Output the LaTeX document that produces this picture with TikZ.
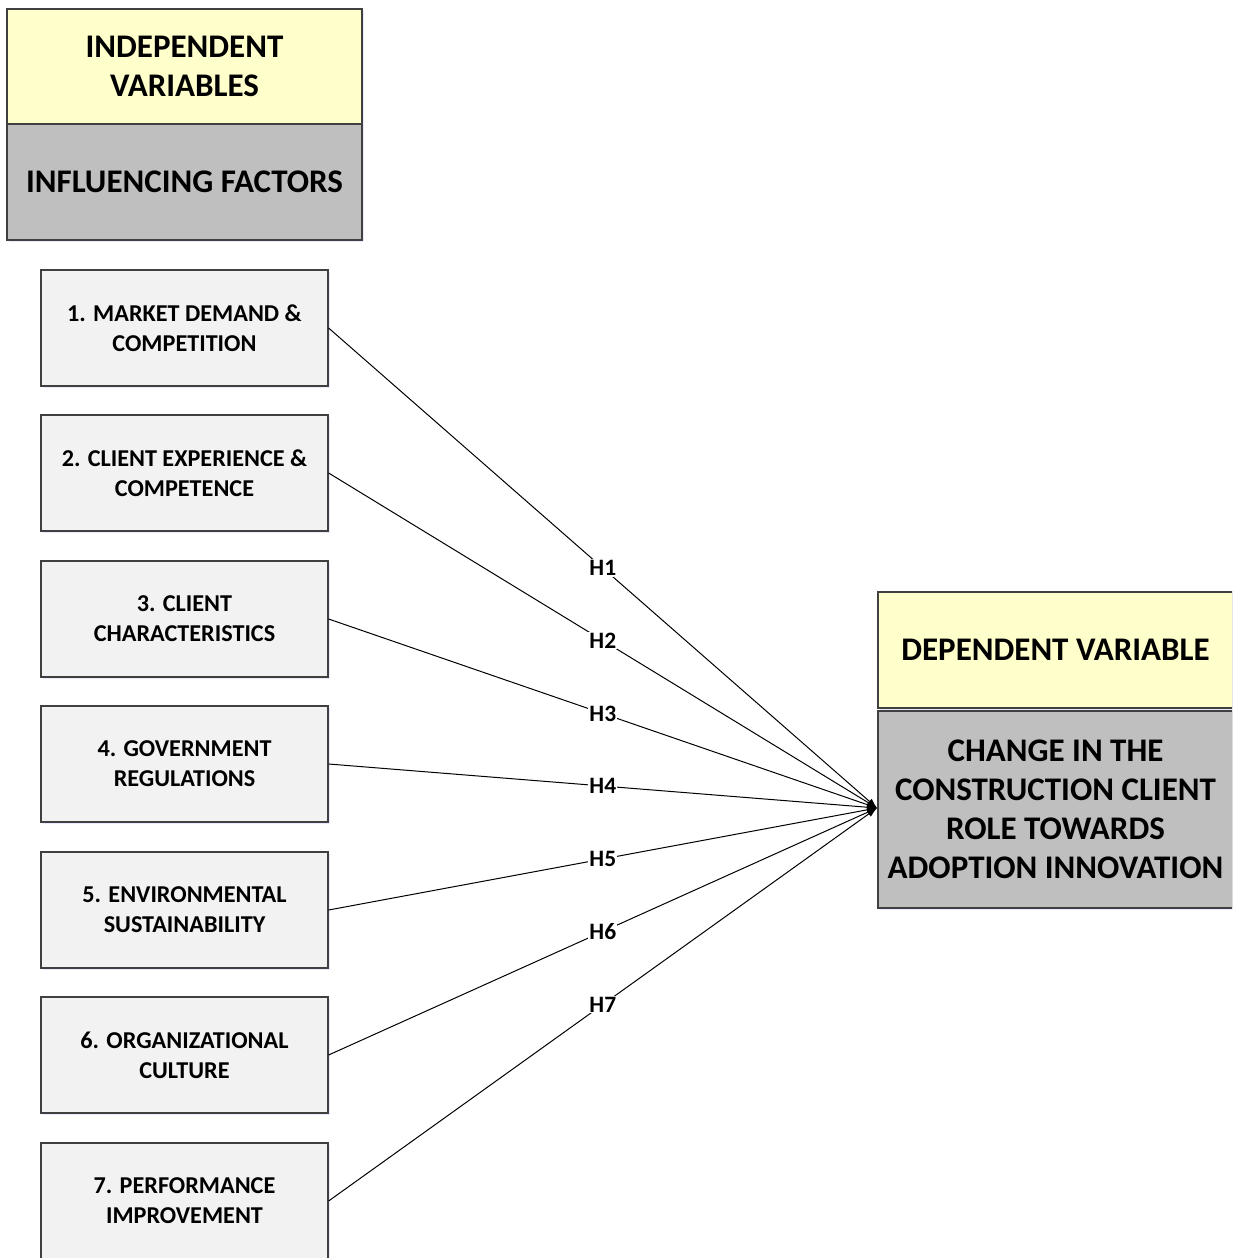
\documentclass[tikz,border=0pt]{standalone}
\usepackage{fontspec}
\setmainfont{Carlito}
\usepackage{xcolor}
\usetikzlibrary{arrows, arrows.meta}
\usetikzlibrary{shadows}

\definecolor{paleyellow}{HTML}{FFFFCC}
\definecolor{midgray}{HTML}{BFBFBF}
\definecolor{lightgray}{HTML}{F2F2F2}
\definecolor{edgegray}{HTML}{404040}

\begin{document}
\begin{tikzpicture}[x=1pt, y=-1pt,
    factor/.style={rectangle, draw=edgegray, line width=1.2pt, fill=lightgray,
      minimum width=287pt, minimum height=116pt, align=center,
      font=\fontsize{24.2}{30}\selectfont\bfseries,
      drop shadow={shadow xshift=1.5pt, shadow yshift=-1.5pt, fill=blue!25, opacity=0.35}},
    header/.style={rectangle, draw=edgegray, line width=1.2pt, minimum width=355pt,
      align=center, font=\fontsize{33}{39}\selectfont\bfseries,
      drop shadow={shadow xshift=1.5pt, shadow yshift=-1.5pt, fill=blue!25, opacity=0.35}},
    link/.style={line width=1pt, -{Latex[length=10pt, width=7pt]}},
    hyp/.style={midway, fill=white, inner sep=1pt, font=\fontsize{23.5}{26}\selectfont\bfseries}]
    \useasboundingbox (0,0) rectangle (1232,1258);
    \clip (0,0) rectangle (1232,1258);

    \node[header, fill=paleyellow, minimum height=115pt] (ivtop) at (184.5,66.5) {INDEPENDENT\\VARIABLES};
    \node[header, fill=midgray, minimum height=116pt] (ivbot) at (184.5,182) {INFLUENCING FACTORS};

    \node[factor] (1) at (184.5,328) {1. MARKET DEMAND \&\\COMPETITION};
    \node[factor] (2) at (184.5,473) {2. CLIENT EXPERIENCE \&\\COMPETENCE};
    \node[factor] (3) at (184.5,619) {3. CLIENT\\CHARACTERISTICS};
    \node[factor] (4) at (184.5,764) {4. GOVERNMENT\\REGULATIONS};
    \node[factor] (5) at (184.5,910) {5. ENVIRONMENTAL\\SUSTAINABILITY};
    \node[factor] (6) at (184.5,1055) {6. ORGANIZATIONAL\\CULTURE};
    \node[factor] (7) at (184.5,1201) {7. PERFORMANCE\\IMPROVEMENT};

    \node[header, fill=paleyellow, minimum height=116pt] (dvtop) at (1055.5,650) {DEPENDENT VARIABLE};
    \node[header, fill=midgray, minimum height=197pt] (dv) at (1055.5,809.5) {CHANGE IN THE\\CONSTRUCTION CLIENT\\ROLE TOWARDS\\ADOPTION INNOVATION};

    \coordinate (tip) at (877,808);

    \draw[link] (1.east) -- node[hyp] {H1} (tip);
    \draw[link] (2.east) -- node[hyp] {H2} (tip);
    \draw[link] (3.east) -- node[hyp] {H3} (tip);
    \draw[link] (4.east) -- node[hyp] {H4} (tip);
    \draw[link] (5.east) -- node[hyp] {H5} (tip);
    \draw[link] (6.east) -- node[hyp] {H6} (tip);
    \draw[link] (7.east) -- node[hyp] {H7} (tip);
  \end{tikzpicture}
\end{document}
